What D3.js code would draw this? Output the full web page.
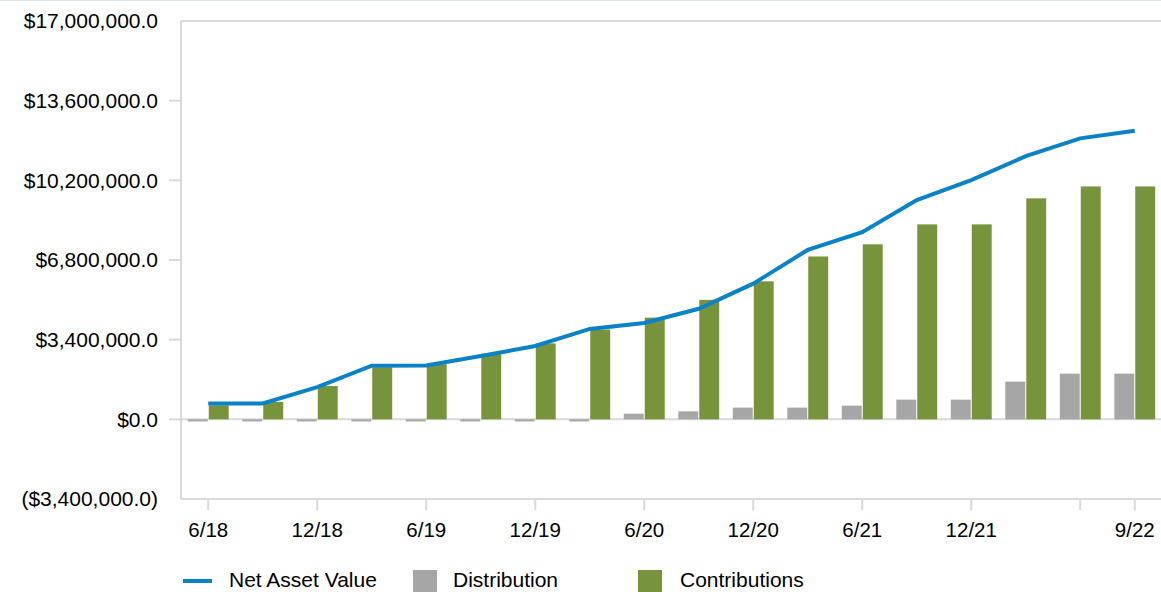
<!DOCTYPE html>
<html>
<head>
<meta charset="utf-8">
<script src="https://cdn.jsdelivr.net/npm/d3@7"></script>
<style>
  body { margin: 0; background: #fff; }
  text { font-family: Arial, "Liberation Sans", sans-serif; fill: #000; }
</style>
</head>
<body>
<svg id="chart" width="1161" height="592"></svg>
<script>
// quarterly figures
var categories = ['6/18', '9/18', '12/18', '3/19', '6/19', '9/19', '12/19', '3/20', '6/20',
  '9/20', '12/20', '3/21', '6/21', '9/21', '12/21', '3/22', '6/22', '9/22'];
var netAssetValue = [680000, 680000, 1370000, 2290000, 2300000, 2700000, 3130000, 3860000, 4110000,
  4720000, 5790000, 7230000, 7990000, 9360000, 10210000, 11230000, 11990000, 12320000];
var distribution = [-90000, -90000, -90000, -90000, -90000, -90000, -90000, -90000, 240000,
  340000, 500000, 500000, 585000, 840000, 840000, 1610000, 1950000, 1950000];
var contributions = [600000, 740000, 1420000, 2220000, 2350000, 2800000, 3240000, 3830000, 4340000,
  5100000, 5890000, 6950000, 7470000, 8320000, 8320000, 9430000, 9940000, 9940000];
var yTicks = [-3400000, 0, 3400000, 6800000, 10200000, 13600000, 17000000];
var xTickLabels = ['6/18', '12/18', '6/19', '12/19', '6/20', '12/20', '6/21', '12/21', '', '9/22'];
var xTickCats = ['6/18', '12/18', '6/19', '12/19', '6/20', '12/20', '6/21', '12/21', '6/22', '9/22'];

var blue = '#0A82C6', green = '#77933C', grey = '#A6A6A6', axisGrey = '#D9D9D9';

var svg = d3.select('#chart');
var plotLeft = 181, plotRight = 1162, plotTop = 21, plotBottom = 499;

// top strip
svg.append('line')
  .attr('x1', 0).attr('x2', 1161).attr('y1', 0.5).attr('y2', 0.5)
  .style('stroke', '#DCE6F2');

var x0 = d3.scaleBand().domain(categories).range([plotLeft, plotRight])
  .paddingInner(0.25).paddingOuter(0.125);
var x1 = d3.scaleBand().domain(['Distribution', 'Contributions'])
  .range([0, x0.bandwidth()]).paddingInner(0.05);
var y = d3.scaleLinear().domain([-3400000, 17000000]).range([plotBottom, plotTop]);

var fmt = d3.format(',.1f');
function money(v) {
  return v < 0 ? '($' + fmt(-v) + ')' : '$' + fmt(v);
}

// frame
svg.append('line').attr('x1', plotLeft).attr('x2', 1161).attr('y1', plotTop).attr('y2', plotTop)
  .style('stroke', axisGrey).style('stroke-width', 2);
svg.append('line').attr('x1', plotLeft).attr('x2', 1161).attr('y1', plotBottom).attr('y2', plotBottom)
  .style('stroke', axisGrey).style('stroke-width', 2);
svg.append('line').attr('x1', plotLeft).attr('x2', plotLeft).attr('y1', plotTop).attr('y2', plotBottom)
  .style('stroke', axisGrey).style('stroke-width', 2);

// y axis ticks and labels
var yAxis = svg.append('g');
yAxis.selectAll('line.tick')
  .data(yTicks.filter(d => d > -3400000 && d < 17000000))
  .enter()
  .append('line')
  .attr('class', 'tick')
  .attr('x1', 169).attr('x2', plotLeft)
  .attr('y1', d => y(d)).attr('y2', d => y(d))
  .style('stroke', axisGrey).style('stroke-width', 2);
yAxis.selectAll('text')
  .data(yTicks)
  .enter()
  .append('text')
  .attr('x', 158)
  .attr('y', d => y(d))
  .attr('dy', '0.35em')
  .attr('text-anchor', 'end')
  .style('font-size', '21px')
  .text(d => money(d));

// zero line
svg.append('line').attr('x1', plotLeft).attr('x2', 1161).attr('y1', y(0)).attr('y2', y(0))
  .style('stroke', axisGrey).style('stroke-width', 2);

// x ticks
var xAxis = svg.append('g');
xAxis.selectAll('line')
  .data(xTickCats)
  .enter()
  .append('line')
  .attr('x1', d => x0(d) + x0.bandwidth() / 2)
  .attr('x2', d => x0(d) + x0.bandwidth() / 2)
  .attr('y1', plotBottom + 1).attr('y2', plotBottom + 11)
  .style('stroke', axisGrey).style('stroke-width', 2);
xAxis.selectAll('text')
  .data(xTickCats)
  .enter()
  .append('text')
  .attr('x', d => x0(d) + x0.bandwidth() / 2)
  .attr('y', 537)
  .attr('text-anchor', 'middle')
  .style('font-size', '20.5px')
  .text((d, i) => xTickLabels[i]);

// bars
var rows = categories.map((c, i) => ({
  cat: c,
  values: [
    {key: 'Distribution', v: distribution[i]},
    {key: 'Contributions', v: contributions[i]},
  ],
}));
var groups = svg.selectAll('g.grp')
  .data(rows)
  .enter()
  .append('g')
  .attr('class', 'grp')
  .attr('transform', d => `translate(${x0(d.cat)},0)`);
groups.selectAll('rect')
  .data(d => d.values)
  .enter()
  .append('rect')
  .attr('x', d => x1(d.key))
  .attr('width', x1.bandwidth())
  .attr('y', d => y(Math.max(0, d.v)))
  .attr('height', d => Math.abs(y(d.v) - y(0)))
  .style('fill', d => (d.key === 'Distribution' ? grey : green));

// net asset value line
var line = d3.line()
  .x((d, i) => x0(categories[i]) + x0.bandwidth() / 2)
  .y(d => y(d));
svg.append('path')
  .datum(netAssetValue)
  .attr('d', line)
  .style('fill', 'none')
  .style('stroke', blue)
  .style('stroke-width', 4);

// legend
var legend = svg.append('g');
legend.append('line')
  .attr('x1', 183).attr('x2', 212).attr('y1', 581).attr('y2', 581)
  .style('stroke', blue).style('stroke-width', 4);
legend.append('text').attr('x', 229).attr('y', 587).style('font-size', '21px').text('Net Asset Value');
legend.append('rect').attr('x', 413).attr('y', 570).attr('width', 24).attr('height', 22).style('fill', grey);
legend.append('text').attr('x', 453).attr('y', 587).style('font-size', '21px').text('Distribution');
legend.append('rect').attr('x', 638).attr('y', 570).attr('width', 24).attr('height', 22).style('fill', green);
legend.append('text').attr('x', 680).attr('y', 587).style('font-size', '21px').text('Contributions');
</script>
</body>
</html>
